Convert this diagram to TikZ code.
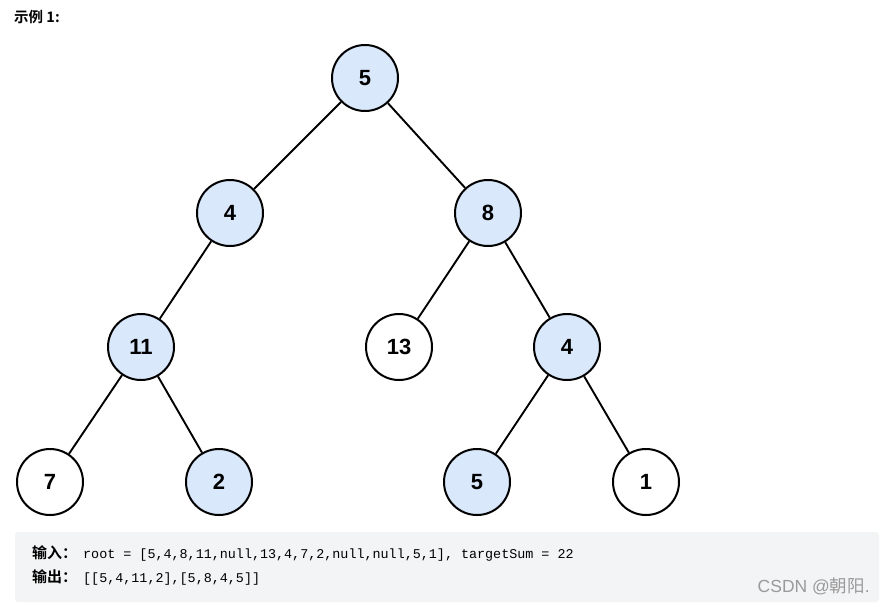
\documentclass[tikz,border=0pt]{standalone}
\usepackage{fontspec}
\setmainfont{Liberation Sans}
\newfontfamily\cjk{Noto Sans CJK SC}
\newfontfamily\cjkb{Noto Sans CJK SC}[BoldFont={* Bold}]
\newfontfamily\monof{Liberation Mono}
\definecolor{nodeblue}{HTML}{DAE8FC}
\definecolor{codebg}{HTML}{F3F4F5}
\definecolor{wm}{HTML}{9A9A9A}
\tikzset{
  tn/.style={circle, draw=black, line width=2pt, minimum size=66pt, inner sep=0pt,
    font=\fontsize{22}{26}\selectfont\bfseries},
  bluen/.style={tn, fill=nodeblue},
  whiten/.style={tn, fill=white},
  edge/.style={draw=black, line width=1.9pt},
}
\begin{document}
\begin{tikzpicture}[x=1pt,y=-1pt]
\useasboundingbox (0,0) rectangle (885,606);
\fill[white] (0,0) rectangle (885,606);
\node[anchor=west, inner sep=0pt, font=\fontsize{14.5}{16}\selectfont] (hdr) at (14,17) {\cjkb\bfseries 示例 \textbf{1:}};
% tree
\node[bluen] (n5) at (365,78) {5};
\node[bluen] (n4) at (230,213) {4};
\node[bluen] (n8) at (488,213) {8};
\node[bluen] (n11) at (141,347) {11};
\node[whiten] (n13) at (399,347) {13};
\node[bluen] (n4b) at (567,347) {4};
\node[whiten] (n7) at (50,482) {7};
\node[bluen] (n2) at (219,482) {2};
\node[bluen] (n5b) at (477,482) {5};
\node[whiten] (n1) at (646,482) {1};
\draw[edge] (n5) -- (n4);
\draw[edge] (n5) -- (n8);
\draw[edge] (n4) -- (n11);
\draw[edge] (n8) -- (n13);
\draw[edge] (n8) -- (n4b);
\draw[edge] (n11) -- (n7);
\draw[edge] (n11) -- (n2);
\draw[edge] (n4b) -- (n5b);
\draw[edge] (n4b) -- (n1);
% code box
\fill[codebg, rounded corners=3pt] (15,532) rectangle (879,602);
\node[anchor=west, inner sep=0pt, font=\fontsize{13.4}{15}\selectfont] (in) at (32,553)
  {{\fontsize{15}{17}\selectfont\cjkb\bfseries 输入：}\hspace{6pt}{\monof root = [5,4,8,11,null,13,4,7,2,null,null,5,1], targetSum = 22}};
\node[anchor=west, inner sep=0pt, font=\fontsize{13.4}{15}\selectfont] (out) at (32,577)
  {{\fontsize{15}{17}\selectfont\cjkb\bfseries 输出：}\hspace{6pt}{\monof [[5,4,11,2],[5,8,4,5]]}};
\node[anchor=east, inner sep=0pt, text=wm, font=\fontsize{17.5}{19}\selectfont] (wmk) at (870,586)
  {CSDN @{\cjk 朝阳}.};
\end{tikzpicture}
\end{document}
